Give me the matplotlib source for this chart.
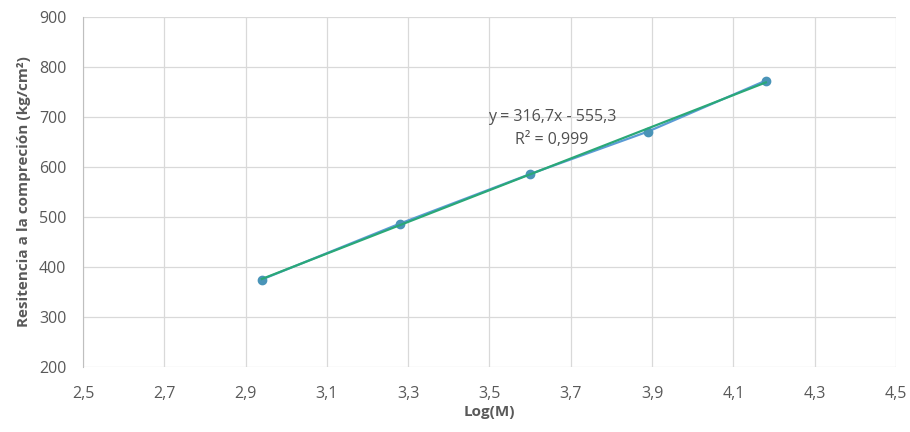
import matplotlib
matplotlib.use("Agg")
import matplotlib.pyplot as plt
import numpy as np

# ── Data ──────────────────────────────────────────────────────────────────────
log_m      = [2.94, 3.28, 3.60, 3.89, 4.18]
resistance = [375, 487, 586, 671, 773]
x_ticks    = [2.5, 2.7, 2.9, 3.1, 3.3, 3.5, 3.7, 3.9, 4.1, 4.3, 4.5]
y_ticks    = [200, 300, 400, 500, 600, 700, 800, 900]

TXT  = "#595959"
GRID = "#d9d9d9"

plt.rcParams["font.family"] = ["Open Sans", "DejaVu Sans"]

fig = plt.figure(figsize=(9.1, 4.32), dpi=100)
ax = fig.add_axes([0.0912, 0.1505, 0.8934, 0.810])

# data series
ax.plot(log_m, resistance, color="#5b9bd5", linewidth=1.6, marker="o",
        markersize=6, markerfacecolor="#4a94b8", markeredgecolor="#4a94b8", zorder=3)

# linear trendline
slope, icpt = np.polyfit(log_m, resistance, 1)
xt = np.array([min(log_m), max(log_m)])
ax.plot(xt, slope * xt + icpt, color="#2aa878", linewidth=1.6, zorder=4)

ax.text(3.654, 700, "y = 316,7x - 555,3", color="#505050", fontsize=11.5, ha="center", va="center")
ax.text(3.654, 654, "R² = 0,999", color="#505050", fontsize=11.5, ha="center", va="center")

# ── Styling ───────────────────────────────────────────────────────────────────
ax.set_xlim(2.5, 4.5)
ax.set_ylim(200, 900)
ax.set_xticks(x_ticks)
ax.set_yticks(y_ticks)
ax.set_xticklabels([f"{v:.1f}".replace(".", ",") for v in x_ticks])
ax.set_yticklabels([str(v) for v in y_ticks])
ax.tick_params(colors=TXT, labelsize=11.5, length=0)
ax.tick_params(axis="x", pad=14)
ax.tick_params(axis="y", pad=12)
ax.grid(True, color=GRID, linewidth=0.9, zorder=0)
ax.set_axisbelow(True)
for s in ["top", "right", "bottom"]:
    ax.spines[s].set_visible(False)
ax.spines["left"].set_color("#bfbfbf")

ax.set_xlabel("Log(M)", color=TXT, fontsize=11, fontweight="bold", labelpad=2)
ax.set_ylabel("Resitencia a la compreción (kg/cm²)", color=TXT, fontsize=11,
              fontweight="bold", labelpad=6)

fig.savefig("out.png", dpi=100, facecolor="white")
